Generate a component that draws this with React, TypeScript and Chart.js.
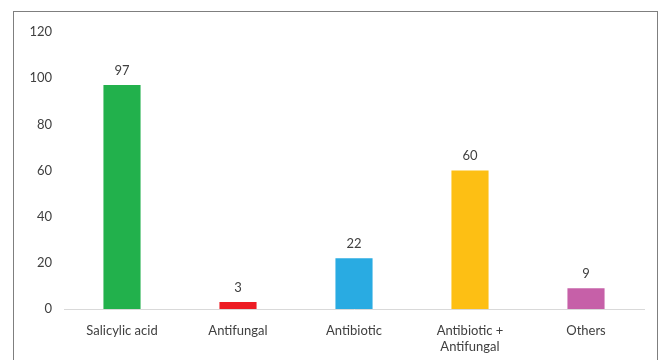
import React, { useEffect, useRef } from "react";
import { Chart, registerables } from "chart.js";

Chart.register(...registerables);

const categories: (string | string[])[] = [
  "Salicylic acid",
  "Antifungal",
  "Antibiotic",
  ["Antibiotic +", "Antifungal"],
  "Others",
];
const values = [97, 3, 22, 60, 9];
const barColors = ["#22B14C", "#ED1C24", "#29ABE2", "#FDBF14", "#C660A8"];
const yTicks = [0, 20, 40, 60, 80, 100, 120];

const FONT = "Lato, 'Open Sans', sans-serif";

const valueLabels = {
  id: "valueLabels",
  afterDatasetsDraw(chart: any) {
    const ctx = chart.ctx;
    const meta = chart.getDatasetMeta(0);
    ctx.save();
    ctx.font = `13px ${FONT}`;
    ctx.fillStyle = "#404040";
    ctx.textAlign = "center";
    ctx.textBaseline = "bottom";
    meta.data.forEach((bar: any, i: number) => {
      ctx.fillText(String(values[i]), bar.x, bar.y - 8);
    });
    ctx.restore();
  },
};

export default function App() {
  const ref = useRef<HTMLCanvasElement>(null);
  useEffect(() => {
    if (!ref.current) return;
    const chart = new Chart(ref.current, {
      type: "bar",
      data: {
        labels: categories,
        datasets: [
          {
            data: values,
            backgroundColor: barColors,
            barPercentage: 0.32,
            categoryPercentage: 1,
          },
        ],
      },
      options: {
        animation: false,
        responsive: false,
        maintainAspectRatio: false,
        layout: { padding: { top: 32, right: 15, left: 0, bottom: 0 } },
        plugins: {
          legend: { display: false },
          tooltip: { enabled: false },
        },
        scales: {
          x: {
            grid: { display: false },
            border: { display: true, color: "#D9D9D9", width: 1 },
            ticks: {
              color: "#404040",
              font: { family: FONT, size: 13 },
              padding: 6,
              maxRotation: 0,
              autoSkip: false,
            },
            afterFit(scale: any) {
              scale.height = 51;
            },
          },
          y: {
            min: 0,
            max: 120,
            grid: { display: false },
            border: { display: false },
            afterBuildTicks(scale: any) {
              scale.ticks = yTicks.map((v) => ({ value: v }));
            },
            ticks: {
              color: "#404040",
              font: { family: FONT, size: 13 },
              padding: 4,
            },
            afterFit(scale: any) {
              scale.width = 64;
            },
          },
        },
      },
      plugins: [valueLabels],
    });
    return () => chart.destroy();
  }, []);
  return (
    <div style={{ position: "fixed", left: 0, top: 0, width: 659, height: 360, background: "#fff", overflow: "hidden" }}>
      <div
        style={{
          position: "absolute",
          left: 13,
          top: 11,
          width: 643,
          height: 400,
          border: "1px solid #7F7F7F",
        }}
      />
      <canvas ref={ref} width={659} height={360} style={{ position: "absolute", left: 0, top: 0 }} />
    </div>
  );
}
